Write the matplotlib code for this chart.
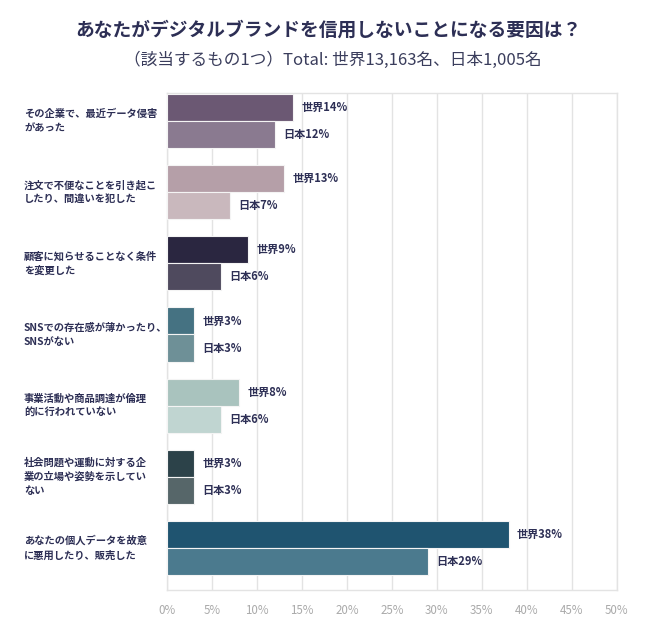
import matplotlib.pyplot as plt
import matplotlib.transforms as mtransforms
import numpy as np

plt.rcParams['font.family'] = ['Noto Sans CJK JP', 'DejaVu Sans']

# data
categories = [
    "その企業で、最近データ侵害\nがあった",
    "注文で不便なことを引き起こ\nしたり、間違いを犯した",
    "顧客に知らせることなく条件\nを変更した",
    "SNSでの存在感が薄かったり、\nSNSがない",
    "事業活動や商品調達が倫理\n的に行われていない",
    "社会問題や運動に対する企\n業の立場や姿勢を示してい\nない",
    "あなたの個人データを故意\nに悪用したり、販売した",
]
world = [14, 13, 9, 3, 8, 3, 38]
japan = [12, 7, 6, 3, 6, 3, 29]
world_colors = ["#6b5873", "#b59fa8", "#2a2640", "#457282", "#a9c3be", "#2c4249", "#1f5470"]
japan_colors = ["#8a7a90", "#c9b8bd", "#4f4a5e", "#6e9097", "#c0d5d1", "#566669", "#4b7a8e"]
xticks = [0, 5, 10, 15, 20, 25, 30, 35, 40, 45, 50]

TEXT = "#2d2f55"

fig = plt.figure(figsize=(6.5, 6.33), dpi=100)
ax = fig.add_axes([0.257, 0.068, 0.692, 0.785])

y = np.arange(len(categories))
h = 0.38
ax.barh(y - h / 2, world, height=h, color=world_colors, edgecolor="#f4f4f4", linewidth=0.8, zorder=3)
ax.barh(y + h / 2, japan, height=h, color=japan_colors, edgecolor="#f4f4f4", linewidth=0.8, zorder=3)

# category labels: x in figure coords, y in data coords
lab_tr = mtransforms.blended_transform_factory(fig.transFigure, ax.transData)
for i in range(len(categories)):
    ax.text(world[i] + 0.9, y[i] - h / 2, f"世界{world[i]}%", va="center", ha="left",
            fontsize=8, fontweight="bold", color=TEXT)
    ax.text(japan[i] + 0.9, y[i] + h / 2, f"日本{japan[i]}%", va="center", ha="left",
            fontsize=8, fontweight="bold", color=TEXT)
    fig.text(24 / 650, y[i], categories[i], transform=lab_tr, fontsize=7.4,
             fontweight="bold", color=TEXT, va="center", ha="left", linespacing=1.5)

ax.set_xlim(0, 50)
ax.set_ylim(6.59, -0.393)
ax.set_xticks(xticks)
ax.set_xticklabels([f"{t}%" for t in xticks])
ax.set_yticks([])
ax.tick_params(axis="x", length=0, pad=10, labelsize=8.3, labelcolor="#aaaaaa")
ax.grid(axis="x", color="#e3e3e3", linewidth=1, zorder=0)
for s in ax.spines.values():
    s.set_color("#e3e3e3")
    s.set_linewidth(1)

fig.text(328 / 650, 1 - 30 / 633, "あなたがデジタルブランドを信用しないことになる要因は？",
         ha="center", va="center", fontsize=13.5, fontweight="bold", color=TEXT)
fig.text(333 / 650, 1 - 60 / 633, "（該当するもの1つ）Total: 世界13,163名、日本1,005名",
         ha="center", va="center", fontsize=12, color="#3a3d5c")

fig.savefig("out.png", dpi=100, facecolor="white")
